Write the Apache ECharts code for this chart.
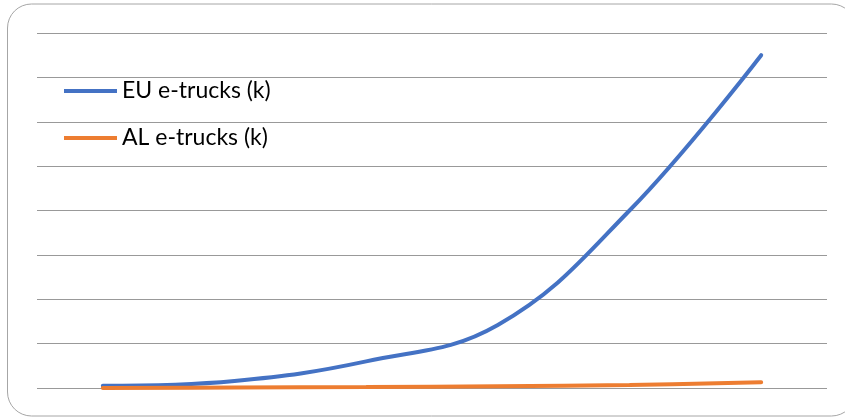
<!DOCTYPE html>
<html>
<head>
<meta charset="utf-8">
<script src="https://cdn.jsdelivr.net/npm/echarts@6/dist/echarts.min.js"></script>
<style>
  html, body { margin: 0; padding: 0; background: #ffffff; }
  #chart { width: 845px; height: 417px; }
</style>
</head>
<body>
<div id="chart"></div>
<script>
// Periods along the horizontal axis (labels hidden)
const periods = ['P1', 'P2', 'P3', 'P4', 'P5', 'P6'];

// Fleet sizes, thousands of trucks
const euTrucks = [0.05, 0.16, 0.6, 1.42, 4.0, 7.5];
const alTrucks = [0.0, 0.01, 0.02, 0.04, 0.07, 0.13];

const seriesNames = ['EU e-trucks (k)', 'AL e-trucks (k)'];
const seriesColors = ['#4472C4', '#ED7D31'];

const chart = echarts.init(document.getElementById('chart'), null, { renderer: 'canvas' });

chart.setOption({
  animation: false,
  backgroundColor: '#ffffff',
  graphic: [{
    type: 'rect',
    shape: { x: 7.5, y: 4, width: 848, height: 412, r: 24 },
    style: { fill: 'none', stroke: '#a6a6a6', lineWidth: 1 },
    silent: true,
    z: -1
  }],
  grid: { left: 37, right: 18, top: 33, bottom: 29 },
  legend: {
    orient: 'vertical',
    left: 59,
    top: 73,
    icon: 'rect',
    itemWidth: 53,
    itemHeight: 4,
    itemGap: 21,
    textStyle: { fontFamily: 'Lato', fontSize: 23, color: '#000000', lineHeight: 26 },
    data: seriesNames
  },
  xAxis: {
    type: 'category',
    data: periods,
    boundaryGap: true,
    axisLine: { show: false },
    axisTick: { show: false },
    axisLabel: { show: false }
  },
  yAxis: {
    type: 'value',
    min: 0,
    max: 8,
    interval: 1,
    axisLine: { show: false },
    axisTick: { show: false },
    axisLabel: { show: false },
    splitLine: { lineStyle: { color: '#999999', width: 1 } }
  },
  series: [
    {
      name: seriesNames[0],
      type: 'line',
      data: euTrucks,
      smooth: 0.4,
      symbol: 'none',
      color: seriesColors[0],
      lineStyle: { width: 4, color: seriesColors[0], cap: 'round' },
      z: 3
    },
    {
      name: seriesNames[1],
      type: 'line',
      data: alTrucks,
      smooth: 0.4,
      symbol: 'none',
      color: seriesColors[1],
      lineStyle: { width: 4, color: seriesColors[1], cap: 'round' },
      z: 4
    }
  ]
});
</script>
</body>
</html>
